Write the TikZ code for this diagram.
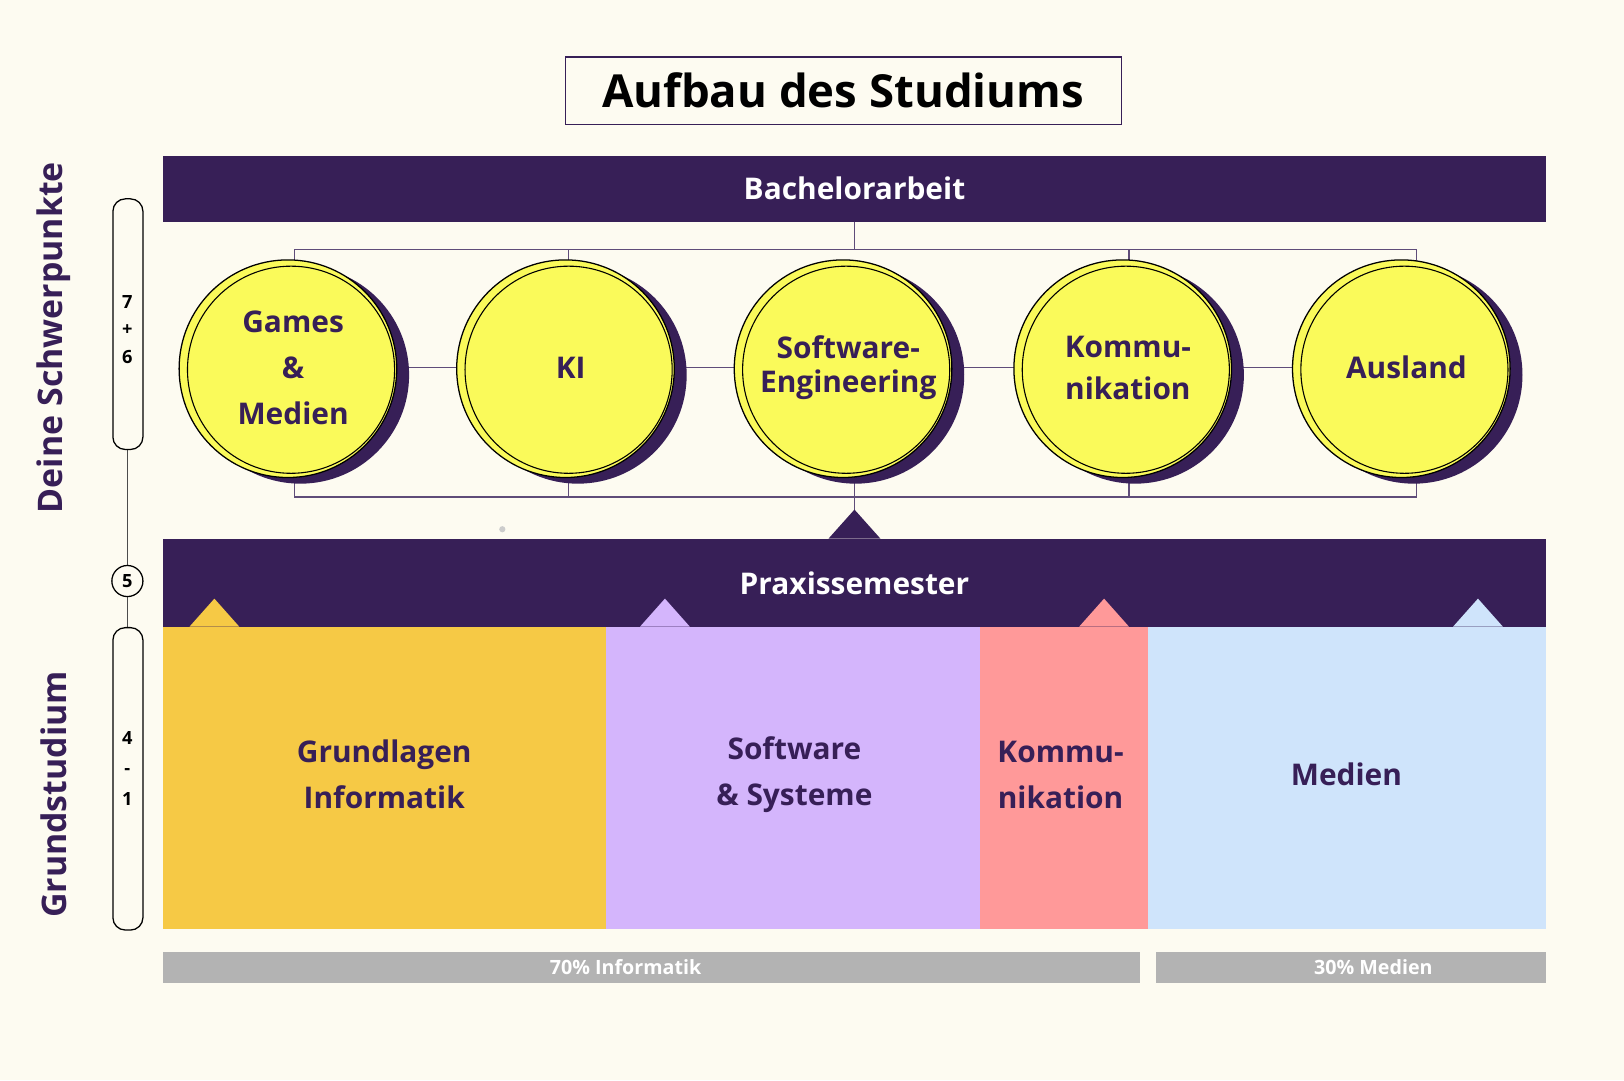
\documentclass[tikz,border=0pt]{standalone}
\usepackage{fontspec}
\setmainfont{Open Sans}
\definecolor{bg}{HTML}{FDFBF1}
\definecolor{dp}{HTML}{371F57}
\definecolor{yel}{HTML}{FAFA5A}
\definecolor{gold}{HTML}{F6C945}
\definecolor{lav}{HTML}{D4B5FC}
\definecolor{pinkc}{HTML}{FF9999}
\definecolor{lblue}{HTML}{CFE4FB}
\definecolor{grayb}{HTML}{B3B3B3}
\tikzset{
 conn/.style={draw=dp!80,line width=0.35pt},
 bubble/.style={circle,draw=black,fill=yel,minimum size=2.1cm,inner sep=0pt,line width=0.35pt},
 blocktxt/.style={align=center,text=dp,font=\bfseries\fontsize{8.2}{12.6}\selectfont},
 pill/.style={draw=black,fill=bg,rounded corners=0.12cm,line width=0.35pt},
}
\begin{document}
\begin{tikzpicture}[x=0.01cm,y=-0.01cm]
\fill[bg] (0,0) rectangle (1568,1043);
\useasboundingbox (0,0) rectangle (1568,1043);
% title
\draw[dp,line width=0.35pt,fill=bg] (546,55) rectangle (1083,120);
\node[font=\bfseries\fontsize{12.5}{15}\selectfont] (title) at (814,87) {Aufbau des Studiums};
% bachelor
\fill[dp] (157,151) rectangle (1493,214);
\node[text=white,font=\bfseries\fontsize{8.2}{10}\selectfont] (ba) at (825,182) {Bachelorarbeit};
% connectors
\coordinate (t0) at (825,214);
\draw[conn] (t0) -- (825,241) (284,241) -- (1368,241);
\foreach \x in {284,549,1090,1368}{\draw[conn] (\x,241) -- (\x,252);}
\draw[conn] (284,480) -- (1368,480);
\foreach \x in {284,549,825,1090,1368}{\draw[conn] (\x,460) -- (\x,480);}
\draw[conn] (284,355) -- (1368,355);
\draw[conn] (825,480) -- (825,495);
% bubbles
\foreach \cx/\nm/\t in {278/g/{Games\\\&\\Medien},546/k/KI,814/s/{Software-\\[-3.5pt]Engineering},1084/m/{Kommu-\\[-1pt]nikation},1353/a/Ausland}{
 \fill[dp] (\cx+12,362) circle (105);
 \node[bubble] (\nm) at (\cx,356) {};
 \draw[black,line width=0.3pt] (\cx+3,357) circle (100);
 \node[blocktxt] at (\cx+5,355) {\t};
}
% praxis
\fill[dp] (157,520) rectangle (1493,605);
\fill[dp] (800,520) -- (825,492) -- (850,520) -- cycle;
\node[text=white,font=\bfseries\fontsize{8.2}{10}\selectfont] (px) at (825,563) {Praxissemester};
% blocks
\fill[gold] (157,605) rectangle (585,897);
\fill[lav] (585,605) rectangle (946,897);
\fill[pinkc] (946,605) rectangle (1108,897);
\fill[lblue] (1108,605) rectangle (1493,897);
\fill[gold] (183,605) -- (207,578) -- (231,605) -- cycle;
\fill[lav] (618,605) -- (642,578) -- (666,605) -- cycle;
\fill[pinkc] (1042,605) -- (1066,578) -- (1090,605) -- cycle;
\fill[lblue] (1403,605) -- (1427,578) -- (1451,605) -- cycle;
\node[blocktxt] (b1) at (371,748) {Grundlagen\\Informatik};
\node[blocktxt] (b2) at (767,748) {Software\\\& Systeme};
\node[blocktxt] (b3) at (1024,748) {Kommu-\\nikation};
\node[blocktxt] (b4) at (1300,748) {Medien};
% gray bars
\fill[grayb] (157,919) rectangle (1101,949);
\fill[grayb] (1116,919) rectangle (1493,949);
\node[text=white,font=\bfseries\fontsize{5.4}{6}\selectfont] (p70) at (604,934) {70\% Informatik};
\node[text=white,font=\bfseries\fontsize{5.4}{6}\selectfont] (p30) at (1326,934) {30\% Medien};
% left side
\node[rotate=90,text=dp,font=\bfseries\fontsize{9.3}{11}\selectfont] (ds) at (52,326) {Deine Schwerpunkte};
\node[rotate=90,text=dp,font=\bfseries\fontsize{9.3}{11}\selectfont] (gs) at (52,767) {Grundstudium};
\draw[black!70,line width=0.35pt] (123,434) -- (123,606);
\draw[pill] (109,192) rectangle (138,434);
\draw[pill] (109,606) rectangle (138,898);
\node[circle,draw=black,fill=bg,line width=0.35pt,minimum size=0.3cm,inner sep=0pt,font=\bfseries\fontsize{5}{6}\selectfont] (five) at (123,561) {5};
\node[align=center,font=\bfseries\fontsize{5}{7.5}\selectfont] (s76) at (123,318) {7\\+\\6};
\node[align=center,font=\bfseries\fontsize{5}{8.5}\selectfont] (s41) at (123,742) {4\\-\\1};
\fill[black!20] (485,511) circle (3);
\end{tikzpicture}
\end{document}
